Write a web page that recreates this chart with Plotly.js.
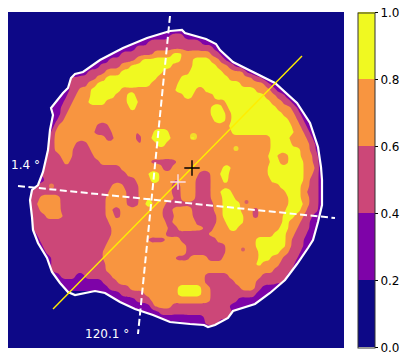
<!DOCTYPE html>
<html><head><meta charset="utf-8">
<script src="https://cdn.plot.ly/plotly-3.0.1.min.js"></script>
<style>html,body{margin:0;padding:0;background:#fff}</style></head><body>
<div id="chart" style="width:412px;height:363px"></div>
<script>
// Band rows: "level x level x level ..." (level = tenths of the band centre), one row every 6 image pixels from y=30
const firstRowY = 30, rowStep = 6;
const bandRows = [
"1 174 3 184 1",
"1 154 3 170 5 183 3 196 1",
"1 137 3 148 5 201 3 212 1",
"1 123 3 135 5 214 3 219 1",
"1 112 3 121 5 155 7 171 9 184 7 212 5 221 3 224 1",
"1 100 3 110 5 136 7 143 9 180 7 194 9 212 7 220 5 226 3 231 1",
"1 91 3 99 5 121 7 129 9 172 7 193 9 218 7 228 5 235 3 240 1",
"1 83 3 88 5 107 7 120 9 163 7 190 9 222 7 243 5 248 3 253 1",
"1 71 5 97 7 105 9 157 7 182 9 230 7 254 5 261 3 265 1",
"1 69 3 70 5 88 7 97 9 150 7 177 9 242 7 265 5 271 3 275 1",
"1 66 3 70 5 80 7 92 9 122 7 176 9 196 7 205 9 255 7 271 5 278 3 282 1",
"1 61 3 67 5 77 7 91 9 116 7 128 9 137 7 184 9 192 7 215 9 265 7 277 5 286 3 290 1",
"1 56 3 65 5 73 7 89 9 106 7 127 9 139 7 226 9 270 7 283 5 292 3 296 1",
"1 51 3 62 5 70 7 130 9 137 7 210 9 222 7 229 9 276 7 291 5 297 3 300 1",
"1 53 3 60 5 67 7 212 9 226 7 232 9 282 7 295 5 301 3 304 1",
"1 52 3 57 5 63 7 215 9 225 7 231 9 288 7 298 5 305 3 308 1",
"1 51 3 54 5 59 7 97 5 110 7 228 9 292 7 302 5 308 3 311 1",
"1 50 3 52 5 55 7 95 5 113 7 137 5 140 7 153 9 170 7 232 9 294 7 305 5 311 3 314 1",
"1 50 5 54 7 106 5 114 7 137 5 142 7 151 9 171 7 190 9 197 7 271 9 290 7 307 5 314 3 316 1",
"1 49 5 54 7 76 5 88 7 140 5 143 7 157 9 166 7 271 9 291 7 310 5 316 3 318 1",
"1 48 5 54 7 73 5 91 7 234 9 238 7 270 9 300 7 311 5 317 3 319 1",
"1 47 5 61 7 72 5 95 7 147 5 150 7 268 9 278 7 288 9 302 7 313 5 319 3 320 1",
"1 45 5 63 7 71 5 100 7 152 5 178 7 271 9 280 7 288 9 304 7 314 5 320 3 321 1",
"1 43 5 122 7 163 5 173 7 222 9 231 7 268 9 305 7 315 5 320 3 322 1",
"1 42 5 126 7 149 9 160 7 199 5 211 7 221 9 230 7 269 9 304 7 313 5 319 3 321 1",
"1 39 3 45 5 136 7 150 9 159 7 176 5 179 7 197 5 212 7 222 9 229 7 272 9 303 7 311 5 319 3 321 1",
"1 35 5 50 7 53 5 113 7 125 5 140 7 172 5 182 7 196 5 212 7 280 9 300 7 309 5 319 3 321 1",
"1 31 5 109 7 127 5 139 7 173 5 180 7 195 5 210 7 221 9 233 7 287 9 300 7 308 5 318 3 321 1",
"1 30 5 40 7 60 5 107 7 127 5 139 7 147 9 152 7 175 5 182 7 195 5 211 7 222 9 236 7 288 9 302 7 310 5 319 3 321 1",
"1 31 5 37 7 60 5 106 7 128 5 138 7 146 9 153 7 167 5 213 7 223 9 240 7 245 5 248 7 288 9 303 7 310 5 320 3 322 1",
"1 32 5 39 7 62 5 105 7 113 5 122 7 163 5 173 7 192 5 213 7 222 9 242 7 252 5 260 7 286 9 301 7 308 5 318 3 320 1",
"1 32 5 46 7 65 5 107 7 114 5 121 7 163 5 175 7 194 5 217 7 222 9 243 7 253 5 258 7 284 9 294 7 304 5 313 3 318 1",
"1 33 5 110 7 166 5 173 7 195 5 216 7 225 9 243 7 282 9 290 7 300 5 310 3 315 1",
"1 33 5 113 7 168 5 178 7 205 5 213 7 230 9 237 7 280 9 288 7 297 5 311 3 316 1",
"1 34 3 37 5 112 7 165 5 208 7 275 9 285 7 295 5 307 3 313 1",
"1 37 3 41 5 109 7 149 5 166 7 180 5 216 7 255 9 285 7 291 5 305 3 311 1",
"1 40 3 44 5 106 7 186 5 225 7 257 9 287 7 293 5 304 3 311 1",
"1 43 3 47 5 104 7 187 5 226 7 241 5 245 7 259 9 280 7 290 5 300 3 306 1",
"1 47 3 51 5 103 7 176 5 190 7 209 5 224 7 260 9 272 7 282 5 297 3 301 1",
"1 50 3 52 5 105 7 256 9 262 7 281 5 295 3 298 1",
"1 52 5 107 7 275 5 292 1",
"1 56 3 60 5 76 3 84 5 112 7 204 5 230 7 262 5 287 1",
"1 59 3 104 5 117 7 206 5 236 7 256 5 283 1",
"1 65 3 108 5 129 7 179 9 201 7 212 5 242 7 255 5 262 3 275 1",
"1 106 3 120 5 145 7 178 9 202 7 212 5 255 3 269 1",
"1 116 3 135 5 150 7 211 5 238 3 260 1",
"1 129 3 150 5 155 7 171 5 229 3 249 1",
"1 145 3 161 5 231 1",
"1 161 3 205 5 228 1",
"1 188 3 205 5 217 1"
];
const outlineX = [170,182,185,195,206,216,220,233,253,275,297,310,318,321,322,322,322,318,313,308,297,285,270,255,233,228,215,208,204,190,170,153,135,120,105,95,85,75,68,60,52,47,38,33,32,30,32,38,43,48,50,51,53,51,55,63,68,71,75,83,100,123,147,170];
const outlineY = [31,30,33,36,39,44,50,62,72,83,103,123,147,167,180,195,205,222,240,248,264,280,293,304,311,318,325,327,325,324,322,315,309,302,293,291,293,295,292,283,272,258,243,230,217,200,190,185,172,150,130,125,115,108,103,93,88,78,74,72,60,48,38,31];
const frameX = [8,8,344,344,170], frameY = [12,348,348,12,12];
const dotX = [193.5,236,246.5,243,51.5], dotY = [136.5,148.5,202,249.5,186], dotSize = [7,5,4,4,5];
const dotColor = ["#f0f921","#f0f921","#cc4778","#cc4778","#f89540"];
const yellowLineX = [53,302], yellowLineY = [309,56];
const dashAX = [18,335], dashAY = [186,218];
const dashBX = [170,138], dashBY = [16,334];
const crossBlack = [192,168], crossPale = [178,182];
const angleLabels = ["1.4 °","120.1 °"], angleX = [9,83], angleY = [165,334];
const bandColors = ["#0d0887","#7e03a8","#cc4778","#f89540","#f0f921"];
const tickVals = [0,0.2,0.4,0.6,0.8,1], tickText = ["0.0","0.2","0.4","0.6","0.8","1.0"];

const gridX = []; for (let x = 8; x <= 344; x += 3) gridX.push(x);
const gridY = []; for (let y = 12; y <= 348; y += rowStep) gridY.push(y);
function decode(row){
  const t = row.split(" ").map(Number);
  t[1]-=3; t[t.length-2]+=3;
  return gridX.map(x=>{ let i=0; while(i+1<t.length && x>=t[i+1]) i+=2; return t[i]/10; });
}
const navyRow = gridX.map(()=>0.1);
const raw = gridY.map(y=>{ const k=(y-firstRowY)/rowStep; return (k>=0 && k<bandRows.length)? decode(bandRows[k]) : navyRow; });
const kx=[1,2,1], ky=[1,5,1];
const z = raw.map((r,j)=>r.map((_,i)=>{ let s=0,w=0;
  ky.forEach((a,dj)=>kx.forEach((b,di)=>{ const R=raw[j+dj-1], v=R&&R[i+di-1]; if(v!==undefined){s+=a*b*v;w+=a*b;} }));
  return s/w; }));
const scale = []; bandColors.forEach((c,i)=>{ scale.push([i*0.2,c]); scale.push([(i+1)*0.2,c]); });
const fnt = {family:"DejaVu Sans",size:12,color:"#000"};
const traces = [
 {type:"contour",x:gridX,y:gridY,z:z,zmin:0,zmax:1,autocontour:false,colorscale:scale,
  contours:{start:0,end:1,size:0.2,coloring:"fill",showlines:false},line:{width:0,smoothing:1.2},hoverinfo:"skip",
  colorbar:{x:1.0417,xanchor:"left",xpad:0,ypad:0,y:0.5,yanchor:"middle",lenmode:"pixels",len:335,thicknessmode:"pixels",thickness:17,
   tickvals:tickVals,ticktext:tickText,ticks:"outside",ticklen:3,tickwidth:1,tickcolor:"#000",tickfont:fnt,outlinewidth:1,outlinecolor:"#333"}},
 {type:"scatter",mode:"markers",x:dotX,y:dotY,marker:{size:dotSize,color:dotColor,line:{width:0}},hoverinfo:"skip",showlegend:false},
 {type:"scatter",mode:"none",x:frameX.concat(outlineX,[170]),y:frameY.slice(0,4).concat([12],outlineY,[12]),fill:"toself",fillcolor:"#0d0887",line:{width:0},hoverinfo:"skip",showlegend:false},
 {type:"scatter",mode:"lines",x:outlineX,y:outlineY,line:{color:"#fff",width:2.2},hoverinfo:"skip",showlegend:false},
 {type:"scatter",mode:"lines",x:yellowLineX,y:yellowLineY,line:{color:"#ffee00",width:1.4},hoverinfo:"skip",showlegend:false},
 {type:"scatter",mode:"lines",x:dashAX,y:dashAY,line:{color:"#fff",width:2,dash:"7px,3.5px"},hoverinfo:"skip",showlegend:false},
 {type:"scatter",mode:"lines",x:dashBX,y:dashBY,line:{color:"#fff",width:2,dash:"7px,3.5px"},hoverinfo:"skip",showlegend:false},
 {type:"scatter",mode:"markers",x:[crossBlack[0]],y:[crossBlack[1]],marker:{symbol:"cross-thin",size:11,line:{color:"#000",width:1.4}},hoverinfo:"skip",showlegend:false},
 {type:"scatter",mode:"markers",x:[crossPale[0]],y:[crossPale[1]],marker:{symbol:"cross-thin",size:11,line:{color:"#fbdde6",width:1.4}},hoverinfo:"skip",showlegend:false}
];
const layout = {width:412,height:363,margin:{l:8,r:68,t:12,b:15},paper_bgcolor:"#fff",plot_bgcolor:"#0d0887",showlegend:false,
 xaxis:{range:[8,344],visible:false,fixedrange:true},
 yaxis:{range:[348,12],visible:false,fixedrange:true},
 annotations:angleLabels.map((t,i)=>({x:angleX[i],y:angleY[i],text:t,showarrow:false,xanchor:"left",yanchor:"middle",font:{family:"DejaVu Sans",size:12,color:"#fff"}}))};
Plotly.newPlot("chart",traces,layout,{displayModeBar:false,staticPlot:true});
</script></body></html>
